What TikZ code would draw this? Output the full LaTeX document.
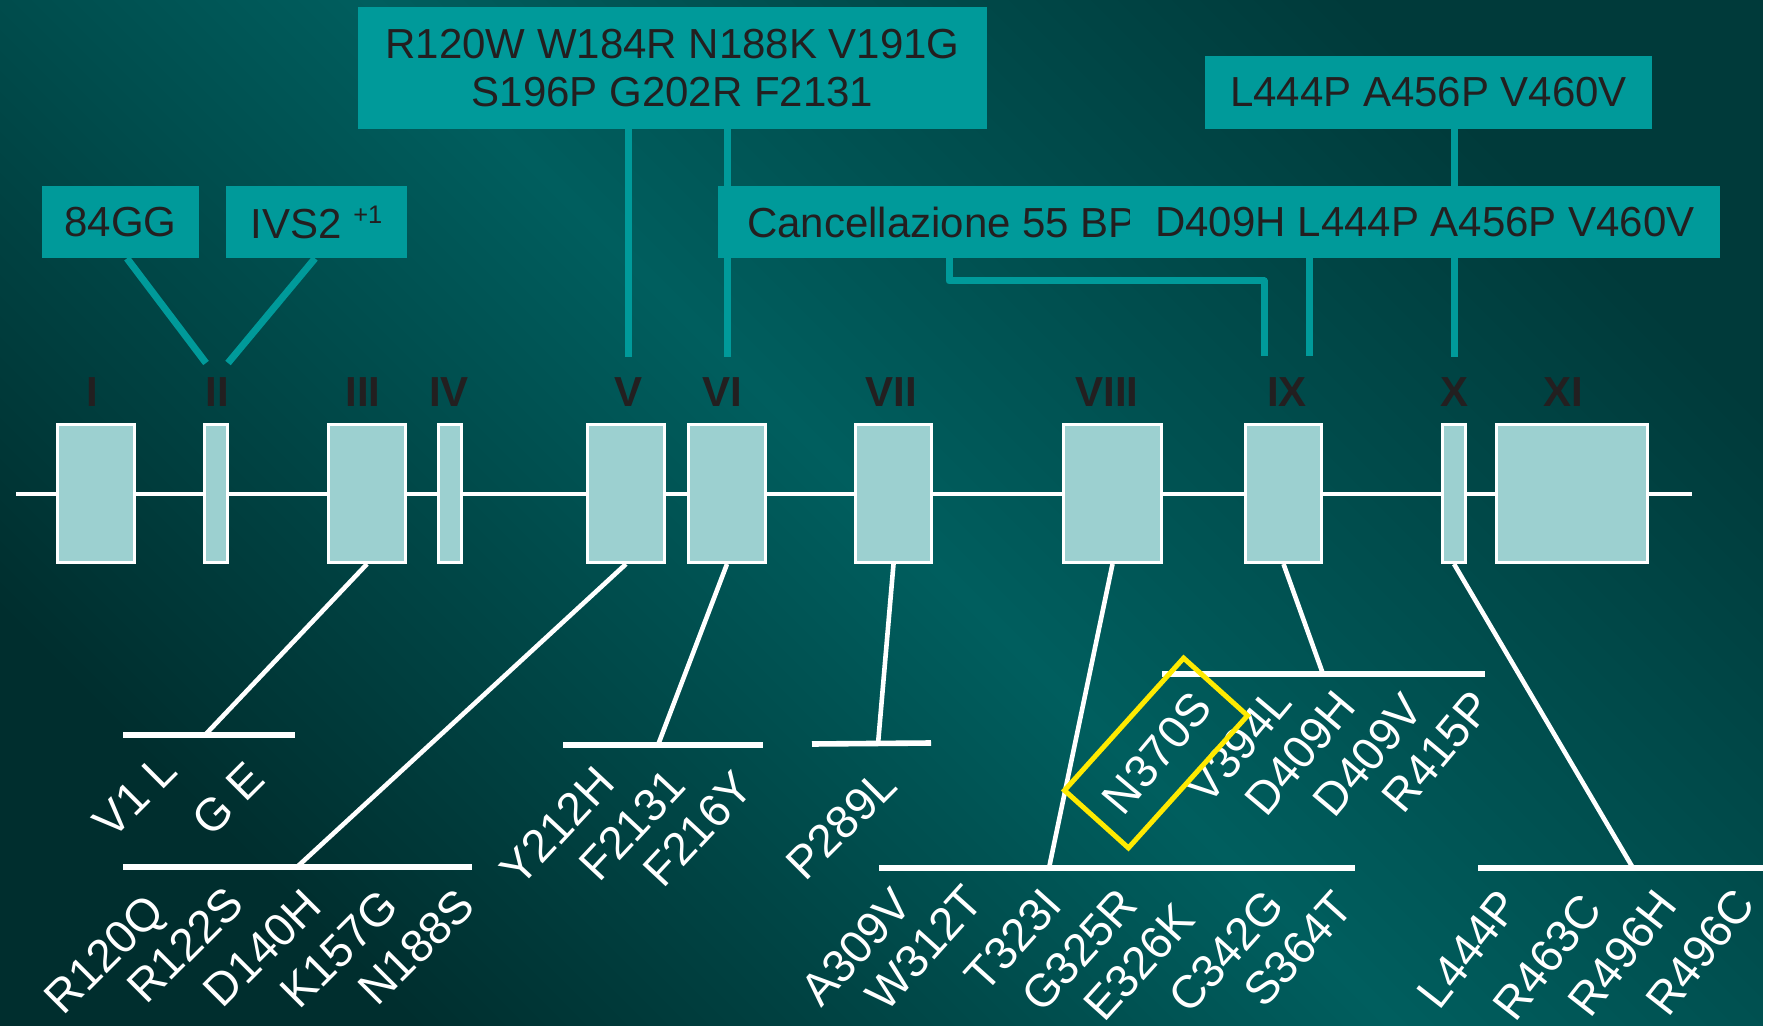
\documentclass[tikz,border=0pt]{standalone}
\usepackage{fontspec}
\setmainfont{Liberation Sans}
\definecolor{tealbox}{HTML}{009A9A}
\definecolor{exonfill}{HTML}{9CD0D0}
\definecolor{txtdark}{HTML}{231F20}
\definecolor{bgmid}{HTML}{005E5E}
\definecolor{bgtr}{HTML}{003A3A}
\definecolor{bgbl}{HTML}{002E2E}
\definecolor{hiyellow}{HTML}{FFEA00}
\tikzset{
  exon/.style={draw=white, line width=1.6pt, fill=exonfill, inner sep=0pt, minimum height=68.9pt},
  exlabel/.style={font=\fontsize{21pt}{25pt}\selectfont\bfseries, text=txtdark, inner sep=0pt, anchor=base},
  tbox/.style={fill=tealbox, inner sep=0pt, text=txtdark, font=\fontsize{21pt}{24pt}\selectfont, align=center},
  tline/.style={draw=tealbox, line width=3.5pt},
  wline/.style={draw=white, line width=2.3pt},
  wbar/.style={draw=white, line width=2.8pt},
  mut/.style={text=white, font=\fontsize{23pt}{26pt}\selectfont, inner sep=0pt},
  hibox/.style={draw=hiyellow, line width=2.5pt, inner sep=0pt, minimum width=89pt, minimum height=43pt},
}
\begin{document}
\begin{tikzpicture}[x=0.5pt,y=-0.5pt]
\useasboundingbox (0,0) rectangle (1776,1026);
\shade[top color=bgtr, bottom color=bgbl, middle color=bgmid, shading angle=-45] (0,0) rectangle (1763,1026);
\fill[white] (1763,0) rectangle (1776,1026);

% backbone
\coordinate (bbl) at (16,494);
\coordinate (bbr) at (1692,494);
\draw[white, line width=1.8pt] (bbl) -- (bbr);

% exons
\node[exon, minimum width=38.4pt] (e1) at (96,493.5) {};
\node[exon, minimum width=11.4pt] (e2) at (216,493.5) {};
\node[exon, minimum width=38.4pt] (e3) at (367,493.5) {};
\node[exon, minimum width=11.4pt] (e4) at (450,493.5) {};
\node[exon, minimum width=38.4pt] (e5) at (626,493.5) {};
\node[exon, minimum width=38.4pt] (e6) at (727,493.5) {};
\node[exon, minimum width=37.9pt] (e7) at (893.5,493.5) {};
\node[exon, minimum width=48.9pt] (e8) at (1112.5,493.5) {};
\node[exon, minimum width=37.9pt] (e9) at (1283.5,493.5) {};
\node[exon, minimum width=11.4pt] (e10) at (1454,493.5) {};
\node[exon, minimum width=75.4pt] (e11) at (1572,493.5) {};

% exon labels
\node[exlabel] (l1) at (92,407) {I};
\node[exlabel] (l2) at (217,407) {II};
\node[exlabel] (l3) at (363,407) {III};
\node[exlabel] (l4) at (449,407) {IV};
\node[exlabel] (l5) at (628,407) {V};
\node[exlabel] (l6) at (722,407) {VI};
\node[exlabel] (l7) at (891,407) {VII};
\node[exlabel] (l8) at (1107,407) {VIII};
\node[exlabel] (l9) at (1287,407) {IX};
\node[exlabel] (l10) at (1454,407) {X};
\node[exlabel] (l11) at (1563,407) {XI};

% top connectors (drawn before boxes)
\coordinate (t84) at (206,363);
\coordinate (tivs) at (228,363);
\coordinate (tC1) at (628,357);
\coordinate (tC2) at (727,357);
\coordinate (tD) at (1454,357);
\coordinate (tEa) at (949,281);
\coordinate (tEb) at (1264,281);
\coordinate (tEc) at (1264,356);
\coordinate (tF) at (1309,356);

\node[tbox, minimum width=78.5pt, minimum height=36pt] (b84) at (120.5,222) {84GG};
\node[tbox, minimum width=90.5pt, minimum height=36pt] (bivs) at (316.5,222) {IVS2 \raisebox{7.5pt}{\fontsize{12.7pt}{14pt}\selectfont +1}};
\node[tbox, minimum width=314.5pt, minimum height=61pt] (bC) at (672.5,68) {R120W W184R N188K V191G\\S196P G202R F2131};
\node[tbox, minimum width=223.5pt, minimum height=36.5pt] (bD) at (1428.5,92.5) {L444P A456P V460V};

\draw[tline] ([xshift=3.25pt]b84.south) -- (t84);
\draw[tline] ([xshift=-0.75pt]bivs.south) -- (tivs);
\draw[tline] ([xshift=-22.25pt]bC.south) -- (tC1);
\draw[tline] ([xshift=27.25pt]bC.south) -- (tC2);
\draw[tline] ([xshift=12.75pt]bD.south) -- (tD);

\node[tbox, minimum width=219pt, minimum height=36pt] (bE) at (937,222) {\hspace*{5pt}Cancellazione 55 BP};
\node[tbox, minimum width=295pt, minimum height=36pt] (bF) at (1425,222) {D409H L444P A456P V460V};
\draw[tline, line join=round] ([xshift=6pt]bE.south) -- (tEa) -- (tEb) -- (tEc);
\draw[tline] ([xshift=-58pt]bF.south) -- (tF);

% white connectors and bars
\coordinate (j3) at (205,735);
\coordinate (a3l) at (123,735); \coordinate (a3r) at (295,735);
\coordinate (j5) at (297,867);
\coordinate (a5l) at (123,867); \coordinate (a5r) at (472,867);
\coordinate (j6) at (658,745);
\coordinate (a6l) at (563,745); \coordinate (a6r) at (763,745);
\coordinate (j7) at (878,744);
\coordinate (a7l) at (812,744); \coordinate (a7r) at (931,743);
\coordinate (j8) at (1049,868);
\coordinate (a8l) at (879,868); \coordinate (a8r) at (1355,868);
\coordinate (j9) at (1323,674);
\coordinate (a9l) at (1162,674); \coordinate (a9r) at (1485,674);
\coordinate (j10) at (1633,868);
\coordinate (a10l) at (1478,868); \coordinate (a10r) at (1763,868);

\draw[wline] (e3.south) -- (j3);
\draw[wline] (e5.south) -- (j5);
\draw[wline] (e6.south) -- (j6);
\draw[wline] (e7.south) -- (j7);
\draw[wline] (e8.south) -- (j8);
\draw[wline] (e9.south) -- (j9);
\draw[wline] (e10.south) -- (j10);
\draw[wbar] (a3l) -- (a3r);
\draw[wbar] (a5l) -- (a5r);
\draw[wbar] (a6l) -- (a6r);
\draw[wbar] (a7l) -- (a7r);
\draw[wbar] (a8l) -- (a8r);
\draw[wbar] (a9l) -- (a9r);
\draw[wbar] (a10l) -- (a10r);

% mutation labels
\node[mut, rotate=45] (m1) at (135,796) {V1 L};
\node[mut, rotate=45] (m2) at (228,799) {G E};

\node[mut, rotate=45] (m3) at (107,957) {R120Q};
\node[mut, rotate=45] (m4) at (185,945) {R122S};
\node[mut, rotate=45] (m5) at (262,948) {D140H};
\node[mut, rotate=45] (m6) at (339,949) {K157G};
\node[mut, rotate=45] (m7) at (416,947) {N188S};

\node[mut, rotate=47] (m8) at (557,826) {Y212H};
\node[mut, rotate=47] (m9) at (632,825) {F2131};
\node[mut, rotate=47] (m10) at (698,829) {F216Y};

\node[mut, rotate=45] (m11) at (841,824) {P289L};

\node[mut, rotate=48] (m12) at (856,947) {A309V};
\node[mut, rotate=48] (m13) at (924,948) {W312T};
\node[mut, rotate=48] (m14) at (1013,940) {T323I};
\node[mut, rotate=48] (m15) at (1079,950) {G325R};
\node[mut, rotate=48] (m16) at (1139,962) {E326K};
\node[mut, rotate=48] (m17) at (1226,951) {C342G};
\node[mut, rotate=48] (m18) at (1298,949) {S364T};

\node[mut, rotate=50] (m19) at (1157,753) {N370S};
\node[mut, rotate=50] (m20) at (1239,745) {V394L};
\node[mut, rotate=50] (m21) at (1300,753) {D409H};
\node[mut, rotate=50] (m22) at (1368,755) {D409V};
\node[mut, rotate=50] (m23) at (1437,752) {R415P};

\node[mut, rotate=52] (m24) at (1468,949) {L444P};
\node[mut, rotate=52] (m25) at (1547,957) {R463C};
\node[mut, rotate=52] (m26) at (1622,953) {R496H};
\node[mut, rotate=52] (m27) at (1700,952) {R496C};

% highlight
\node[hibox, rotate=48] (hl) at (1156,753) {};
\end{tikzpicture}
\end{document}
